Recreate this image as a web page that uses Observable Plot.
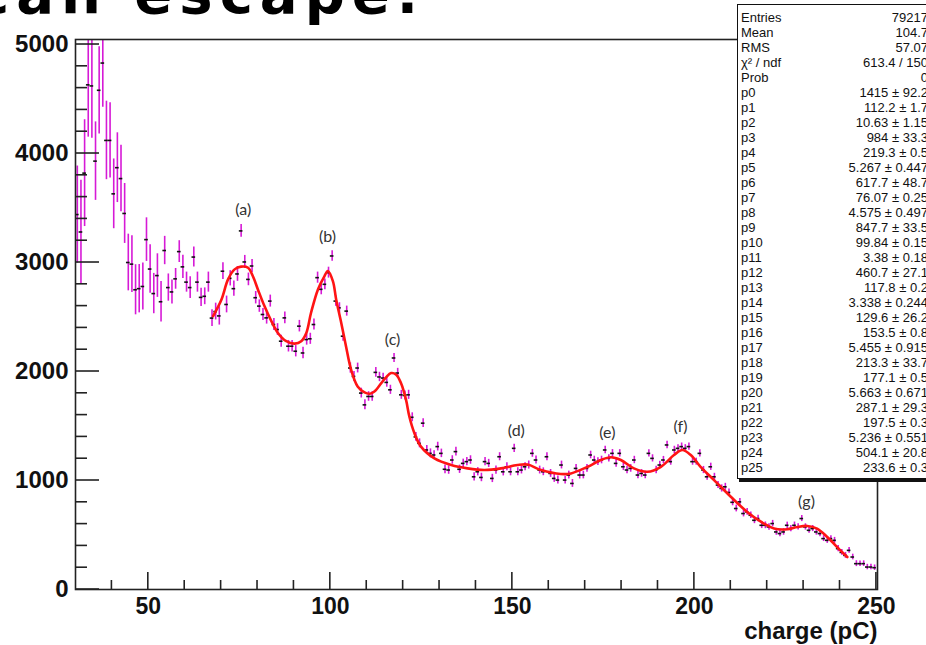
<!DOCTYPE html>
<html>
<head>
<meta charset="utf-8">
<script src="https://cdn.jsdelivr.net/npm/d3@7"></script>
<script src="https://cdn.jsdelivr.net/npm/@observablehq/plot@0.6"></script>
<style>
html, body { margin: 0; padding: 0; background: #fff; overflow: hidden; }
#wrap { position: relative; width: 926px; height: 645px; overflow: hidden; background: #fff; }
#title { position: absolute; left: 0; top: 0; }
#stats { position: absolute; left: 737px; top: 4px; width: 200px; height: 475px; box-sizing: border-box;
  border: 1.5px solid #111; background: #fff; box-shadow: 2px 3px 0 #111;
  font-family: "Liberation Sans Narrow", "Liberation Sans", Arial, sans-serif; font-size: 13px; color: #111;
  padding: 4.5px 8px 0 3px; overflow: hidden; }
.row { display: flex; justify-content: space-between; height: 15px; line-height: 15px; white-space: nowrap; }
</style>
</head>
<body>
<div id="wrap"></div>
<script>
// ---- data ----
const binStart = 30.5;   // centre of first bin (pC)
const binWidth = 1;
const counts = [
  3440,3280,3820,4630,4620,3930,4580,4830,4120,4120,
  3630,3870,3770,3450,3000,2985,2750,2760,2780,3210,
  2940,2715,2880,2640,3110,2770,2730,2850,3100,2960,
  2820,2770,3050,2820,2680,2690,2820,2490,2550,2510,
  2920,2615,2855,2760,2895,3290,3005,2845,2968,2677,
  2600,2523,2492,2646,2431,2385,2278,2492,2232,2232,
  2186,2416,2170,2293,2300,2431,2861,2754,2800,2907,
  3060,2646,2584,2324,2554,2032,1955,2032,1802,1694,
  1771,1771,1992,1950,1940,1900,1832,2124,1986,1786,
  1780,1786,1580,1400,1341,1526,1280,1249,1234,1311,
  1249,1103,1096,1188,1265,1103,1157,1173,1188,1034,
  1080,1028,1173,1157,1019,1096,1218,1080,1126,1080,
  1295,1080,1096,1126,1142,1249,1188,1096,1080,1218,
  1065,1019,1004,1142,1004,1050,973,1111,1050,1050,
  1111,1234,1188,1173,1188,1280,1203,1249,1157,1249,
  1126,1096,1111,1188,1050,1065,1050,1249,1203,1096,
  1142,1188,1326,1173,1280,1295,1311,1295,1311,1173,
  1173,1249,1096,1034,1126,1034,958,927,942,890,
  800,743,804,697,712,681,635,651,589,589,
  574,605,528,513,528,589,559,589,574,651,
  574,543,559,528,513,467,451,467,451,375,
  340,313,359,298,237,237,237,206,206,200
];
const errors = [
  445,475,490,480,480,360,400,405,360,345,
  320,320,305,275,260,260,230,222,215,200,
  222,185,200,185,130,125,110,95,100,107,
  92,100,92,92,84,77,92,77,77,84,
  77,77,70,70,68,58,60,58,59,57,
  57,56,57,55,55,54,55,54,53,53,
  52,53,52,51,51,50,51,50,49,50,
  48,48,47,47,46,47,46,45,45,46,
  44,44,45,43,43,44,42,42,43,41,
  41,42,41,40,41,40,40,41,39,40,
  39,40,39,39,40,38,39,38,39,38,
  38,39,38,37,38,38,37,38,37,37,
  38,37,36,37,37,36,37,36,36,37,
  36,36,37,36,35,36,36,35,36,35,
  36,35,35,36,35,35,34,35,35,34,
  35,34,35,34,34,35,34,34,33,34,
  34,33,34,33,34,33,33,34,33,33,
  32,33,33,32,33,32,32,33,32,32,
  32,31,32,31,31,30,31,30,30,31,
  30,29,30,29,30,29,29,30,29,28,
  29,28,28,29,28,27,28,27,27,28,
  26,27,26,26,27,25,26,25,25,25
];
const fitX = [67.8,70.1,71.9,73.7,75.5,77.4,78.7,80.1,81.9,83.8,85.6,87.9,90.2,92.0,93.4,94.7,96.6,98.4,99.3,100.7,
  101.6,103.0,104.3,105.7,107.5,109.4,110.8,112.1,114.0,115.3,116.7,118.1,119.4,120.8,121.7,123.1,124.9,128.6,133.2,137.7,
  142.3,146.9,151.4,154.2,157.9,163.3,166.1,170.7,174.3,177.1,179.8,183.4,187.1,190.8,194.4,196.7,199.0,201.7,205.4,210.0,
  214.5,219.1,221.9,225.5,228.3,231.0,233.7,236.5,240.1,242.0];
const fitY = [2508,2661,2845,2937,2962,2952,2876,2753,2600,2462,2354,2278,2256,2278,2354,2539,2753,2876,2922,2830,
  2661,2446,2232,2017,1863,1808,1796,1817,1894,1946,1986,1971,1894,1740,1587,1434,1311,1203,1142,1111,
  1096,1111,1142,1146,1096,1060,1065,1126,1188,1213,1188,1111,1080,1126,1234,1280,1234,1126,1004,851,
  712,605,559,553,574,583,559,482,359,298];
const annText = ["(a)","(b)","(c)","(d)","(e)","(f)","(g)"];
const annX = [76.1, 99.2, 117.1, 151.1, 176.1, 196.2, 230.8];
const annY = [3486, 3239, 2294, 1459, 1440, 1495, 807];
const xMajor = [50, 100, 150, 200, 250];
const yMajor = [0, 1000, 2000, 3000, 4000, 5000];
const xTitle = "charge (pC)";
const titleText = "can escape.";
const statNames = ["Entries","Mean","RMS","χ² / ndf","Prob","p0","p1","p2","p3","p4","p5","p6","p7","p8","p9","p10",
  "p11","p12","p13","p14","p15","p16","p17","p18","p19","p20","p21","p22","p23","p24","p25"];
const statValues = ["79217","104.7","57.07","613.4 / 150","0","1415 ± 92.2","112.2 ± 1.7","10.63 ± 1.15","984 ± 33.3",
  "219.3 ± 0.5","5.267 ± 0.447","617.7 ± 48.7","76.07 ± 0.25","4.575 ± 0.497","847.7 ± 33.5","99.84 ± 0.15",
  "3.38 ± 0.18","460.7 ± 27.1","117.8 ± 0.2","3.338 ± 0.244","129.6 ± 26.2","153.5 ± 0.8","5.455 ± 0.915",
  "213.3 ± 33.7","177.1 ± 0.5","5.663 ± 0.671","287.1 ± 29.3","197.5 ± 0.3","5.236 ± 0.551","504.1 ± 20.8","233.6 ± 0.3"];

// ---- tables ----
const bins = counts.map((c, i) => ({x: binStart + i * binWidth, y: c, e: errors[i] ?? 0}));
const fit = fitX.map((x, i) => ({x, y: fitY[i]}));
const ann = annText.map((t, i) => ({t, x: annX[i], y: annY[i]}));
const xMinor = d3.range(40, 251, 10);
const yMinor = d3.range(0, 5001, 200);

function ticksMark(index, scales, values, dims) {
  const {x, y} = scales;
  const left = dims.marginLeft, bottom = dims.height - dims.marginBottom;
  const g = d3.create("svg:g").attr("stroke", "#222").attr("stroke-width", 1.6).attr("fill", "none");
  yMinor.forEach(v => g.append("line")
    .attr("x1", left).attr("x2", left + (yMajor.includes(v) ? 24 : 12))
    .attr("y1", y(v)).attr("y2", y(v)));
  xMinor.forEach(v => g.append("line")
    .attr("x1", x(v)).attr("x2", x(v))
    .attr("y1", bottom).attr("y2", bottom - (xMajor.includes(v) ? 17 : 9)));
  return g.node();
}

const chart = Plot.plot({
  width: 926, height: 645,
  marginLeft: 75, marginRight: 49, marginTop: 39, marginBottom: 56,
  x: {domain: [30, 250.3]},
  y: {domain: [0, 5046]},
  style: {background: "transparent", fontFamily: "'Liberation Sans', Arial, sans-serif", color: "#111"},
  marks: [
    Plot.ruleX(bins, {x: "x", y1: d => d.y - d.e, y2: d => d.y + d.e, stroke: "#d61ad6", strokeWidth: 1.6, clip: true}),
    Plot.ruleY(bins, {y: "y", x1: d => d.x - binWidth / 2, x2: d => d.x + binWidth / 2, stroke: "#111", strokeWidth: 1.6, clip: true}),
    Plot.line(fit, {x: "x", y: "y", stroke: "#ff1414", strokeWidth: 2.6, curve: "catmull-rom"}),
    Plot.text(ann, {x: "x", y: "y", text: "t", fontSize: 16, fill: "#333", fontFamily: "Lato, 'Open Sans', sans-serif"}),
    Plot.frame({stroke: "#222", strokeWidth: 1.6}),
    ticksMark,
    Plot.axisY({ticks: yMajor, tickSize: 0, tickPadding: 7, tickFormat: d => String(d), fontSize: 24, fontWeight: "bold", label: null}),
    Plot.axisX({ticks: xMajor, tickSize: 0, tickPadding: 8, tickFormat: d => String(d), fontSize: 23, fontWeight: "bold", label: null}),
    Plot.text([xTitle], {frameAnchor: "bottom-right", dy: 49, lineAnchor: "bottom", textAnchor: "end", fontSize: 24, fontWeight: "bold", text: d => d})
  ]
});

const wrap = document.getElementById("wrap");
wrap.appendChild(chart);

// cropped heading at the top (the reference shows only its lower part)
const title = d3.select(wrap).append("svg").attr("id", "title").attr("width", 926).attr("height", 38);
title.append("text").attr("x", -24).attr("y", 13)
  .attr("font-family", "'DejaVu Sans', sans-serif").attr("font-weight", "bold")
  .attr("font-size", 56).attr("letter-spacing", 7).attr("fill", "#000").text(titleText);

// statistics box
const stats = d3.select(wrap).append("div").attr("id", "stats");
statNames.forEach((n, i) => {
  const r = stats.append("div").attr("class", "row");
  r.append("span").text(n);
  r.append("span").text(statValues[i]);
});
</script>
</body>
</html>
